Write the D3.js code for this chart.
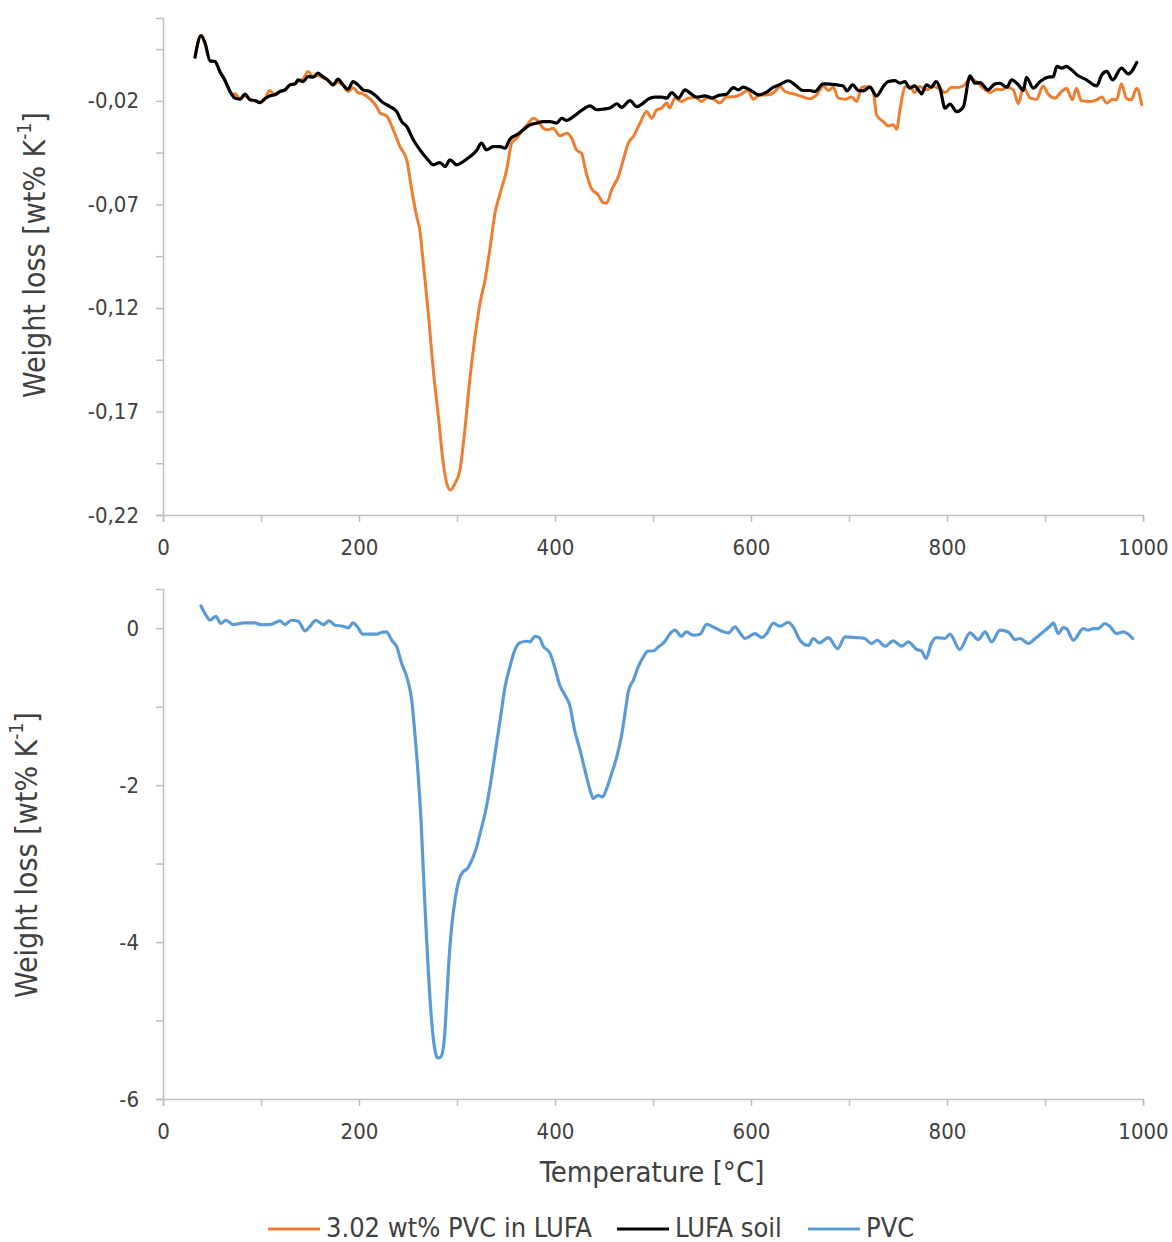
<!DOCTYPE html>
<html>
<head>
<meta charset="utf-8">
<script src="https://cdn.jsdelivr.net/npm/d3@7"></script>
<style>
  html, body { margin: 0; padding: 0; background: #ffffff; }
  svg { display: block; }
  text { font-family: "DejaVu Sans Condensed", "DejaVu Sans", sans-serif; font-stretch: condensed; fill: #404040; }
</style>
</head>
<body>
<svg id="chart" width="1172" height="1242"></svg>
<script>
// ---------------- DATA ----------------
const seriesNames = ["3.02 wt% PVC in LUFA", "LUFA soil", "PVC"];
const seriesColors = ["#ED7D31", "#000000", "#5B9BD5"];

// [temperature °C, weight loss wt% K-1]
const pvcInLufa = [
  [32.7,0.0011],[38.8,0.0115],[42.9,0.0079],[48,-0.0007],[53,-0.001],[58,-0.0058],[63,-0.0099],[68.4,-0.0155],[71.5,-0.0175],[73.5,-0.0165],[78.6,-0.0192],[83.7,-0.0175],[88.8,-0.0195],[93.9,-0.0199],[99,-0.021],[104,-0.019],[109,-0.015],[114,-0.0171],[119.4,-0.0155],[124.5,-0.0147],[129.6,-0.0123],[134.7,-0.0118],[137.8,-0.0105],[142.9,-0.0095],[148,-0.0058],[153,-0.0083],[158,-0.0078],[163,-0.0088],[168,-0.0099],[173.5,-0.0123],[178.6,-0.011],[183.7,-0.0125],[188.8,-0.0155],[193.9,-0.0137],[199,-0.016],[204,-0.0166],[211,-0.019],[218,-0.0228],[221.4,-0.0259],[228,-0.0272],[235,-0.034],[241.8,-0.0421],[248.7,-0.0485],[253.8,-0.063],[258.9,-0.0759],[262,-0.0823],[265.6,-0.0984],[270.7,-0.1225],[275.8,-0.15],[281,-0.1725],[286,-0.195],[289.5,-0.2047],[293.5,-0.2079],[298,-0.2047],[303,-0.1982],[308,-0.1789],[313,-0.1548],[318.4,-0.1338],[323.5,-0.1177],[328.6,-0.1065],[333.7,-0.0911],[338.8,-0.0742],[344,-0.0646],[350.7,-0.0533],[355.8,-0.0404],[361,-0.038],[366,-0.0348],[372.8,-0.0308],[378,-0.0284],[383,-0.03],[388,-0.0332],[393,-0.034],[398,-0.0332],[405,-0.0369],[412,-0.0356],[417,-0.038],[422,-0.0437],[427,-0.0453],[432,-0.055],[437,-0.0622],[444,-0.0654],[449,-0.0691],[452.8,-0.0694],[457.8,-0.063],[464.6,-0.0566],[469.7,-0.0485],[474.8,-0.0404],[480,-0.0372],[486.7,-0.0308],[493.6,-0.0252],[498.7,-0.0284],[503.8,-0.0243],[509,-0.0235],[514,-0.0211],[517,-0.0235],[522.4,-0.0187],[529,-0.0203],[536,-0.0187],[543,-0.0184],[549.7,-0.0203],[556.4,-0.0179],[563,-0.0195],[568,-0.0211],[575,-0.0182],[583.7,-0.0179],[588.8,-0.0171],[597,-0.015],[602,-0.0192],[609,-0.0172],[617.7,-0.0171],[624.5,-0.0155],[629.6,-0.0131],[634.7,-0.0155],[643,-0.0166],[651.7,-0.0179],[660,-0.019],[667,-0.0171],[673.8,-0.0128],[678.9,-0.015],[684,-0.0134],[689,-0.0187],[696,-0.0192],[702.7,-0.0182],[707.8,-0.0203],[713,-0.0134],[719.7,-0.0131],[724.8,-0.0155],[728,-0.0268],[735,-0.03],[740,-0.0321],[745,-0.0316],[748.7,-0.0337],[752,-0.0243],[757,-0.0134],[762,-0.0128],[767,-0.016],[772,-0.0131],[779,-0.0147],[786,-0.0131],[793,-0.0144],[798,-0.016],[804.8,-0.0134],[811.5,-0.0136],[818,-0.0123],[823.5,-0.0095],[830,-0.0107],[837,-0.0139],[844,-0.016],[850.7,-0.0144],[855.8,-0.0147],[861,-0.0134],[867.7,-0.0147],[872.8,-0.0214],[878,-0.0134],[885,-0.0187],[891.5,-0.0192],[898,-0.0128],[903,-0.0166],[910,-0.0187],[917,-0.0155],[922,-0.0139],[928,-0.0195],[932,-0.0139],[937,-0.0199],[945.9,-0.0203],[952.8,-0.0195],[958,-0.0182],[963,-0.0211],[969,-0.0192],[973,-0.0195],[978,-0.0118],[983,-0.0187],[988,-0.0195],[993.6,-0.0139],[998.7,-0.0219]
];

const lufaSoil = [
  [32.7,0.0011],[38.8,0.0115],[42.9,0.0079],[48,-0.0007],[53,-0.001],[58,-0.0058],[63,-0.0099],[68.4,-0.0155],[73.5,-0.0187],[78.6,-0.0192],[83.7,-0.0168],[88.8,-0.0195],[93.9,-0.0199],[99,-0.0208],[104,-0.019],[109,-0.0176],[114,-0.0171],[119.4,-0.0155],[124.5,-0.0147],[129.6,-0.0123],[134.7,-0.0118],[137.8,-0.0099],[142.9,-0.0107],[148,-0.0083],[153,-0.0086],[158,-0.0066],[163,-0.0083],[168,-0.0099],[173.5,-0.0123],[178.6,-0.0095],[183.7,-0.0123],[188.8,-0.0144],[193.9,-0.0107],[199,-0.0123],[204,-0.0147],[211,-0.0155],[218,-0.0179],[223.5,-0.0205],[231.6,-0.0228],[238.5,-0.0252],[243.6,-0.03],[248.7,-0.0324],[255.4,-0.0388],[262.2,-0.0437],[269,-0.0477],[275.9,-0.0509],[282.6,-0.0498],[287.8,-0.0517],[292.9,-0.0485],[299.7,-0.0509],[306.4,-0.0493],[313.3,-0.0469],[320,-0.044],[325,-0.0404],[330,-0.0437],[337,-0.0421],[343.9,-0.0421],[349,-0.0429],[354,-0.0385],[361,-0.0364],[367.7,-0.034],[374.5,-0.0316],[381,-0.0308],[388,-0.03],[395,-0.03],[401.7,-0.0308],[406.8,-0.0284],[412,-0.0295],[418.7,-0.0276],[425.5,-0.0252],[430.6,-0.0235],[435.7,-0.0224],[442.5,-0.0243],[449.3,-0.024],[456,-0.0235],[463,-0.0214],[468,-0.0232],[476.5,-0.0199],[483.4,-0.0228],[490,-0.0211],[495,-0.0192],[502,-0.0182],[509,-0.0182],[514,-0.0187],[519,-0.016],[526,-0.0187],[532.7,-0.0147],[537.8,-0.0163],[544.6,-0.0182],[553,-0.0176],[560,-0.0187],[566.7,-0.0174],[575,-0.0168],[582,-0.0136],[587,-0.0147],[592,-0.0134],[599,-0.0147],[607.5,-0.0171],[616,-0.0158],[623,-0.0134],[629.6,-0.0121],[638,-0.0103],[645,-0.0123],[653,-0.015],[660,-0.015],[665,-0.0155],[673.8,-0.0118],[680.6,-0.0119],[687.4,-0.0123],[694,-0.0128],[698,-0.0152],[703.7,-0.0123],[709.5,-0.015],[714.6,-0.0152],[721.4,-0.0134],[728,-0.0176],[735,-0.0131],[740,-0.0107],[747,-0.0102],[752,-0.0115],[757,-0.0107],[762,-0.0139],[767,-0.0128],[770.7,-0.0147],[774,-0.0166],[779,-0.0123],[784,-0.0134],[788.8,-0.0107],[792.9,-0.0139],[797.9,-0.0235],[803,-0.0216],[809.9,-0.0252],[816.6,-0.023],[823.5,-0.0079],[828.6,-0.0115],[833.7,-0.0112],[842,-0.0147],[849,-0.0118],[854,-0.0115],[861,-0.0134],[866,-0.0099],[872.8,-0.0123],[878,-0.015],[881,-0.0086],[888,-0.0139],[895,-0.0107],[903,-0.0086],[908.5,-0.0083],[912,-0.0034],[917,-0.0042],[922,-0.0034],[927,-0.005],[934,-0.0079],[941,-0.0095],[952.8,-0.0128],[958,-0.0074],[963,-0.0058],[969,-0.0099],[978,-0.0042],[985,-0.007],[993.6,-0.0015]
];

const pvc = [
  [38.8,0.284],[42.9,0.187],[48,0.102],[54,0.153],[59,0.06],[64.3,0.102],[71.7,0.047],[82,0.068],[94,0.068],[99,0.047],[109,0.047],[119.4,0.093],[124.5,0.047],[131,0.102],[138,0.089],[145,-0.034],[150,0.025],[156,0.102],[163.6,0.047],[169.7,0.093],[175.5,0.038],[184,0.025],[189,0.004],[194,0.068],[198,0.025],[204,-0.076],[218,-0.076],[221.4,-0.06],[228,-0.047],[233.4,-0.153],[238.5,-0.238],[243.6,-0.45],[248.7,-0.62],[253.8,-0.917],[257,-1.34],[260.5,-1.89],[263.3,-2.45],[265.6,-3.08],[268,-3.72],[270.7,-4.36],[274,-4.99],[276.9,-5.33],[280.3,-5.48],[283.7,-5.46],[287,-5.25],[289.5,-4.74],[291.8,-4.23],[294.6,-3.8],[298,-3.46],[302,-3.21],[306.5,-3.1],[310,-3.07],[315,-2.96],[320,-2.79],[324.5,-2.57],[327,-2.45],[333.7,-2.02],[338.8,-1.6],[344,-1.17],[349,-0.75],[354,-0.49],[359,-0.28],[364,-0.187],[371,-0.166],[374.5,-0.174],[379.6,-0.102],[384,-0.119],[388,-0.23],[395,-0.32],[400,-0.51],[405,-0.73],[410,-0.85],[415,-0.98],[420,-1.3],[425.5,-1.55],[430.6,-1.81],[435.7,-2.06],[439,-2.17],[444,-2.13],[448.6,-2.15],[452.8,-2.04],[457.8,-1.85],[463,-1.64],[468,-1.36],[471.4,-1.09],[474.8,-0.81],[480,-0.66],[485,-0.49],[490,-0.37],[495,-0.29],[500,-0.29],[505.4,-0.24],[512,-0.17],[517,-0.076],[522.4,-0.025],[529,-0.102],[534,-0.047],[541,-0.089],[548,-0.076],[554.8,0.051],[561.5,0.017],[577,-0.06],[583.7,0.017],[588.8,-0.06],[594,-0.131],[604,-0.068],[611,-0.119],[616,-0.068],[622.8,0.065],[629.6,0.025],[638,0.076],[643,0.017],[650,-0.153],[658.5,-0.22],[663.6,-0.131],[669.7,-0.187],[679,-0.119],[688.4,-0.259],[696,-0.111],[707.8,-0.119],[716,-0.131],[723,-0.195],[728.9,-0.153],[736.7,-0.229],[745,-0.161],[753.8,-0.229],[760.5,-0.174],[769,-0.271],[774,-0.289],[778.6,-0.386],[784,-0.195],[789,-0.119],[797.9,-0.131],[803,-0.076],[813,-0.271],[823.5,-0.06],[832,-0.144],[838.8,-0.047],[845.6,-0.174],[854,-0.025],[862.6,-0.047],[869.4,-0.144],[874.5,-0.131],[883,-0.195],[890,-0.131],[898,-0.047],[905,0.025],[908.5,0.068],[913.6,-0.068],[918.7,0.009],[922,-0.004],[928.9,-0.153],[939,-0.004],[944,-0.025],[949,-0.004],[954.4,-0.004],[961,0.06],[966,0.025],[973,-0.068],[980,-0.047],[985,-0.076],[989.5,-0.131]
];

const xTicks = [0,100,200,300,400,500,600,700,800,900,1000];
const xTickLabels = ["0","","200","","400","","600","","800","","1000"];
const topYTicks = [-0.22,-0.195,-0.17,-0.145,-0.12,-0.095,-0.07,-0.045,-0.02,0.005];
const topYTickLabels = ["-0,22","","-0,17","","-0,12","","-0,07","","-0,02",""];
const botYTicks = [-6,-5,-4,-3,-2,-1,0];
const botYTickLabels = ["-6","","-4","","-2","","0"];
const xTitle = "Temperature [°C]";

// ---------------- LAYOUT ----------------
const svg = d3.select("#chart");
const left = 163, right = 1143;
const x = d3.scaleLinear().domain([0, 1000]).range([left, right]);
const yTop = d3.scaleLinear().domain([-0.22, 0.02]).range([515, 18]);
const yBot = d3.scaleLinear().domain([-6, 0.5]).range([1099, 589]);

const axisColor = "#bfbfbf";

function styleAxis(g) {
  g.selectAll(".domain").attr("stroke", axisColor).attr("stroke-width", 1.5);
  g.selectAll(".tick line").attr("stroke", axisColor).attr("stroke-width", 1.5);
  g.selectAll(".tick text")
    .attr("fill", "#404040")
    .style("font-size", "22px")
    .style("font-family", "'DejaVu Sans Condensed', 'DejaVu Sans', sans-serif")
    .style("font-stretch", "condensed");
}

function drawPanel(yScale, yTicks, yLabels, yBottomPx) {
  const xa = d3.axisBottom(x).tickValues(xTicks)
    .tickFormat((d, i) => xTickLabels[i]).tickSizeOuter(0).tickSize(7).tickPadding(17);
  svg.append("g").attr("transform", `translate(0,${yBottomPx})`).call(xa).call(styleAxis);

  const ya = d3.axisLeft(yScale).tickValues(yTicks)
    .tickFormat((d, i) => yLabels[i]).tickSizeOuter(0).tickSize(7).tickPadding(17);
  svg.append("g").attr("transform", `translate(${left},0)`).call(ya).call(styleAxis);
}

drawPanel(yTop, topYTicks, topYTickLabels, 515);
drawPanel(yBot, botYTicks, botYTickLabels, 1099);

// lines
function drawLine(data, yScale, color, width) {
  const line = d3.line().x(d => x(d[0])).y(d => yScale(d[1])).curve(d3.curveMonotoneX);
  svg.append("path").datum(data)
    .attr("fill", "none").attr("stroke", color).attr("stroke-width", width)
    .attr("stroke-linejoin", "round").attr("stroke-linecap", "round")
    .attr("d", line);
}
drawLine(pvcInLufa, yTop, seriesColors[0], 3);
drawLine(lufaSoil, yTop, seriesColors[1], 3.2);
drawLine(pvc, yBot, seriesColors[2], 3.2);

// y-axis titles
function yTitle(cx, cy) {
  const t = svg.append("text")
    .attr("transform", `translate(${cx},${cy}) rotate(-90)`)
    .attr("text-anchor", "middle")
    .attr("dominant-baseline", "central")
    .style("font-size", "30px");
  t.append("tspan").text("Weight loss [wt% K");
  t.append("tspan").attr("dy", -10).style("font-size", "19px").text("-1");
  t.append("tspan").attr("dy", 10).text("]");
}
yTitle(34, 255);
yTitle(26, 855);

// x-axis title
svg.append("text")
  .attr("x", 652).attr("y", 1182)
  .attr("text-anchor", "middle")
  .style("font-size", "29px")
  .text(xTitle);

// legend
const legendItems = [
  { name: seriesNames[0], color: seriesColors[0], x0: 268 },
  { name: seriesNames[1], color: seriesColors[1], x0: 617 },
  { name: seriesNames[2], color: seriesColors[2], x0: 808 }
];
const legY = 1227;
legendItems.forEach(it => {
  svg.append("line").attr("x1", it.x0).attr("x2", it.x0 + 52)
    .attr("y1", legY + 2).attr("y2", legY + 2)
    .attr("stroke", it.color).attr("stroke-width", 3);
  svg.append("text").attr("x", it.x0 + 58).attr("y", legY)
    .attr("dominant-baseline", "central")
    .style("font-size", "27px")
    .text(it.name);
});
</script>
</body>
</html>
